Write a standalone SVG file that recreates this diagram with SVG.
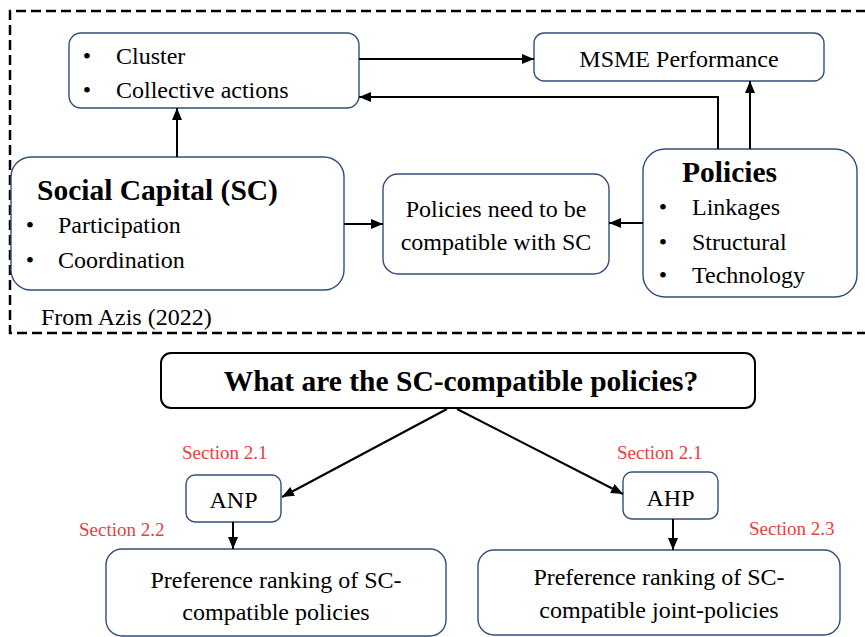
<svg xmlns="http://www.w3.org/2000/svg" width="865" height="637" viewBox="0 0 865 637" font-family="'Liberation Serif', 'Times New Roman', serif">
  <defs>
    <marker id="arrow" markerUnits="userSpaceOnUse" markerWidth="12" markerHeight="10" refX="12" refY="5" orient="auto">
      <path d="M0,0 L12,5 L0,10 z" fill="#000"/>
    </marker>
    <style>
      .t, .b, .red { font-family: 'Liberation Serif', 'Times New Roman', serif; fill: #000; }
      .t { font-size: 24px; }
      .b { font-size: 29.5px; font-weight: bold; }
      .c { text-anchor: middle; }
      .red { font-size: 19px; fill: #e8403c; }
      .box { fill: #fff; stroke: #334d7a; stroke-width: 1.4; }
      .qbox { fill: #fff; stroke: #000; stroke-width: 2; }
      .frame { fill: none; stroke: #000; stroke-width: 2.5; stroke-dasharray: 10 5; }
      .link { fill: none; stroke: #000; stroke-width: 2; marker-end: url(#arrow); }
    </style>
  </defs>

  <rect width="865" height="637" fill="#fff"/>

  <!-- dashed frame around the conceptual model -->
  <path class="frame" d="M866,11 H10 V333 H866"/>

  <g id="cluster">
    <rect class="box" x="69" y="33" width="290" height="75" rx="12"/>
    <text class="t c" x="87" y="64">•</text>
    <text class="t" x="116" y="64">Cluster</text>
    <text class="t c" x="87" y="98">•</text>
    <text class="t" x="116" y="98">Collective actions</text>
  </g>

  <g id="msme">
    <rect class="box" x="534" y="33" width="290" height="48" rx="10"/>
    <text class="t c" x="679" y="67">MSME Performance</text>
  </g>

  <g id="social-capital">
    <rect class="box" x="11" y="157" width="333" height="133" rx="20"/>
    <text class="b" x="37" y="200">Social Capital (SC)</text>
    <text class="t c" x="30" y="233">•</text>
    <text class="t" x="58" y="233">Participation</text>
    <text class="t c" x="30" y="268">•</text>
    <text class="t" x="58" y="268">Coordination</text>
  </g>

  <g id="compatible">
    <rect class="box" x="383" y="174" width="226" height="100" rx="15"/>
    <text class="t c" x="496" y="217">Policies need to be</text>
    <text class="t c" x="496" y="250">compatible with SC</text>
  </g>

  <g id="policies">
    <rect class="box" x="643" y="149" width="214" height="148" rx="22"/>
    <text class="b" x="682" y="182">Policies</text>
    <text class="t c" x="663" y="215">•</text>
    <text class="t" x="692" y="215">Linkages</text>
    <text class="t c" x="663" y="250">•</text>
    <text class="t" x="692" y="250">Structural</text>
    <text class="t c" x="663" y="283">•</text>
    <text class="t" x="692" y="283">Technology</text>
  </g>

  <g id="source">
    <text class="t" x="41" y="325">From Azis (2022)</text>
  </g>

  <g id="question">
    <rect class="qbox" x="161" y="353" width="594" height="55" rx="10"/>
    <text class="b c" x="461" y="391">What are the SC-compatible policies?</text>
  </g>

  <g id="anp">
    <text class="red" x="182" y="459">Section 2.1</text>
    <rect class="box" x="186" y="475" width="95" height="47" rx="9"/>
    <text class="t c" x="233.5" y="508">ANP</text>
  </g>

  <g id="ahp">
    <text class="red" x="617" y="459">Section 2.1</text>
    <rect class="box" x="623" y="472" width="95" height="47" rx="9"/>
    <text class="t c" x="670.5" y="506">AHP</text>
  </g>

  <g id="ranking-policies">
    <text class="red" x="79" y="536">Section 2.2</text>
    <rect class="box" x="106" y="549" width="340" height="87" rx="16"/>
    <text class="t c" x="276" y="588">Preference ranking of SC-</text>
    <text class="t c" x="276" y="620">compatible policies</text>
  </g>

  <g id="ranking-joint">
    <text class="red" x="749" y="535">Section 2.3</text>
    <rect class="box" x="478" y="550" width="362" height="85" rx="16"/>
    <text class="t c" x="659" y="585">Preference ranking of SC-</text>
    <text class="t c" x="659" y="618">compatible joint-policies</text>
  </g>

  <g id="connectors">
    <line class="link" x1="177" y1="157" x2="177" y2="108"/>
    <line class="link" x1="359" y1="59" x2="534" y2="59"/>
    <polyline class="link" points="718,149 718,97 359,97"/>
    <line class="link" x1="750" y1="149" x2="750" y2="81"/>
    <line class="link" x1="344" y1="224" x2="383" y2="224"/>
    <line class="link" x1="643" y1="223" x2="609" y2="223"/>
    <line class="link" x1="447" y1="409" x2="282" y2="497"/>
    <line class="link" x1="457" y1="409" x2="623" y2="494"/>
    <line class="link" x1="233" y1="522" x2="233" y2="549"/>
    <line class="link" x1="673" y1="519" x2="673" y2="550"/>
  </g>
</svg>
